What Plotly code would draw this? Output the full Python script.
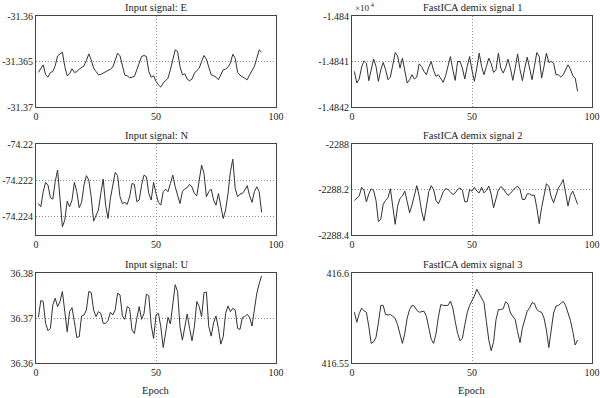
import plotly.graph_objects as go

# ---------------- data ----------------
epochs = list(range(1, 95))

input_E = [-31.36620, -31.36573, -31.36537, -31.36646, -31.36672, -31.36620, -31.36610, -31.36548, -31.36438, -31.36416,
           -31.36398, -31.36555, -31.36657, -31.36635, -31.36580, -31.36620, -31.36613, -31.36584, -31.36569, -31.36548,
           -31.36489, -31.36416, -31.36482, -31.36573, -31.36610, -31.36646, -31.36642, -31.36628, -31.36606, -31.36599,
           -31.36584, -31.36562, -31.36482, -31.36409, -31.36438, -31.36555, -31.36650, -31.36657, -31.36679, -31.36672,
           -31.36664, -31.36591, -31.36518, -31.36445, -31.36434, -31.36445, -31.36610, -31.36672, -31.36657, -31.36719,
           -31.36756, -31.36781, -31.36737, -31.36708, -31.36683, -31.36591, -31.36482, -31.36372, -31.36391, -31.36555,
           -31.36646, -31.36635, -31.36694, -31.36712, -31.36694, -31.36628, -31.36599, -31.36573, -31.36500, -31.36434,
           -31.36475, -31.36573, -31.36646, -31.36657, -31.36672, -31.36701, -31.36635, -31.36591, -31.36584, -31.36562,
           -31.36518, -31.36420, -31.36464, -31.36620, -31.36650, -31.36664, -31.36679, -31.36701, -31.36646, -31.36599,
           -31.36555, -31.36464, -31.36372, -31.36398]

input_N = [-74.22327, -74.22345, -74.22262, -74.22211, -74.22226, -74.22295, -74.22303, -74.22207, -74.22143, -74.22290,
           -74.22455, -74.22418, -74.22314, -74.22345, -74.22308, -74.22211, -74.22262, -74.22350, -74.22321, -74.22226,
           -74.22174, -74.22198, -74.22290, -74.22424, -74.22395, -74.22363, -74.22272, -74.22193, -74.22336, -74.22409,
           -74.22299, -74.22217, -74.22156, -74.22174, -74.22290, -74.22327, -74.22321, -74.22332, -74.22290, -74.22217,
           -74.22222, -74.22317, -74.22308, -74.22226, -74.22171, -74.22180, -74.22272, -74.22308, -74.22211, -74.22272,
           -74.22321, -74.22336, -74.22262, -74.22248, -74.22262, -74.22217, -74.22171, -74.22235, -74.22281, -74.22327,
           -74.22262, -74.22246, -74.22240, -74.22222, -74.22237, -74.22272, -74.22284, -74.22198, -74.22116, -74.22162,
           -74.22290, -74.22262, -74.22248, -74.22308, -74.22336, -74.22272, -74.22345, -74.22409, -74.22363, -74.22272,
           -74.22152, -74.22083, -74.22244, -74.22290, -74.22275, -74.22272, -74.22253, -74.22229, -74.22284, -74.22321,
           -74.22262, -74.22235, -74.22262, -74.22376]

input_U = [36.37015, 36.37388, 36.37366, 36.36881, 36.36716, 36.36769, 36.37291, 36.37440, 36.37254, 36.37366,
           36.37589, 36.37142, 36.36694, 36.37142, 36.37231, 36.36918, 36.36567, 36.36582, 36.37045, 36.37067,
           36.37179, 36.37589, 36.37567, 36.37179, 36.37030, 36.37142, 36.37104, 36.36881, 36.36881, 36.36940,
           36.37127, 36.37067, 36.37179, 36.37552, 36.37515, 36.37045, 36.36970, 36.37254, 36.37216, 36.36731,
           36.36657, 36.36993, 36.37254, 36.36970, 36.37104, 36.37530, 36.37492, 36.36843, 36.36545, 36.37067,
           36.37104, 36.36806, 36.36344, 36.36672, 36.37015, 36.36866, 36.37254, 36.37739, 36.37589, 36.36806,
           36.36508, 36.36843, 36.37090, 36.36769, 36.36493, 36.36806, 36.37366, 36.37254, 36.37030, 36.37567,
           36.37574, 36.36806, 36.36597, 36.36896, 36.37045, 36.36769, 36.36418, 36.36582, 36.37104, 36.37269,
           36.37142, 36.37216, 36.37179, 36.36769, 36.36746, 36.37015, 36.37030, 36.37082, 36.37015, 36.36821,
           36.37254, 36.37552, 36.37761, 36.37940]

demix_1 = [-14841.218, -14841.473, -14841.385, -14841.124, -14840.985, -14841.036, -14841.422, -14841.145, -14840.942, -14841.109,
           -14841.436, -14841.182, -14841.022, -14841.182, -14841.400, -14841.342, -14841.036, -14840.804, -14840.876, -14841.145,
           -14840.927, -14841.218, -14841.473, -14841.400, -14841.291, -14841.385, -14841.342, -14841.051, -14841.109, -14841.218,
           -14841.291, -14841.124, -14841.000, -14841.196, -14841.327, -14841.291, -14841.364, -14841.458, -14841.313, -14841.109,
           -14840.891, -14841.182, -14841.415, -14841.000, -14841.000, -14841.145, -14841.385, -14841.109, -14840.891, -14841.196,
           -14841.436, -14841.145, -14840.818, -14841.109, -14841.291, -14841.109, -14840.927, -14841.051, -14841.240, -14841.182,
           -14840.818, -14841.145, -14841.255, -14841.131, -14840.949, -14841.145, -14841.415, -14841.145, -14840.833, -14841.182,
           -14841.422, -14841.145, -14840.905, -14841.145, -14841.400, -14841.109, -14840.804, -14840.891, -14841.364, -14841.109,
           -14840.818, -14841.022, -14841.000, -14841.036, -14841.291, -14841.291, -14841.342, -14841.291, -14841.182, -14841.073,
           -14841.167, -14841.313, -14841.364, -14841.655]

demix_2 = [-2288.248, -2288.238, -2288.229, -2288.190, -2288.204, -2288.255, -2288.219, -2288.197, -2288.204, -2288.248,
           -2288.341, -2288.331, -2288.265, -2288.248, -2288.236, -2288.197, -2288.265, -2288.353, -2288.273, -2288.239,
           -2288.229, -2288.207, -2288.254, -2288.302, -2288.268, -2288.222, -2288.183, -2288.229, -2288.295, -2288.338,
           -2288.265, -2288.210, -2288.183, -2288.200, -2288.248, -2288.263, -2288.239, -2288.210, -2288.196, -2288.200,
           -2288.210, -2288.222, -2288.215, -2288.200, -2288.193, -2288.204, -2288.254, -2288.254, -2288.200, -2288.207,
           -2288.190, -2288.207, -2288.215, -2288.190, -2288.215, -2288.204, -2288.185, -2288.222, -2288.280, -2288.239,
           -2288.201, -2288.187, -2288.196, -2288.212, -2288.226, -2288.217, -2288.204, -2288.193, -2288.185, -2288.200,
           -2288.244, -2288.244, -2288.219, -2288.219, -2288.226, -2288.225, -2288.280, -2288.350, -2288.280, -2288.222,
           -2288.175, -2288.185, -2288.233, -2288.258, -2288.222, -2288.193, -2288.178, -2288.156, -2288.215, -2288.273,
           -2288.225, -2288.207, -2288.236, -2288.265]

demix_3 = [416.5782, 416.5726, 416.5774, 416.5805, 416.5790, 416.5782, 416.5703, 416.5609, 416.5617, 416.5643,
           416.5722, 416.5820, 416.5820, 416.5769, 416.5767, 416.5769, 416.5759, 416.5748, 416.5712, 416.5662,
           416.5609, 416.5665, 416.5750, 416.5797, 416.5820, 416.5816, 416.5793, 416.5782, 416.5786, 416.5788,
           416.5759, 416.5694, 416.5632, 416.5609, 416.5662, 416.5756, 416.5825, 416.5820, 416.5821, 416.5820,
           416.5844, 416.5806, 416.5731, 416.5665, 416.5624, 416.5637, 416.5712, 416.5778, 416.5820, 416.5844,
           416.5872, 416.5910, 416.5885, 416.5861, 416.5835, 416.5731, 416.5628, 416.5568, 416.5618, 416.5741,
           416.5797, 416.5797, 416.5801, 416.5840, 416.5829, 416.5778, 416.5756, 416.5741, 416.5675, 416.5613,
           416.5694, 416.5741, 416.5788, 416.5806, 416.5835, 416.5831, 416.5797, 416.5786, 416.5782, 416.5750,
           416.5684, 416.5586, 416.5680, 416.5778, 416.5816, 416.5820, 416.5831, 416.5842, 416.5820, 416.5782,
           416.5737, 416.5675, 416.5600, 416.5628]

titles = ["Input signal: E", "FastICA demix signal 1",
          "Input signal: N", "FastICA demix signal 2",
          "Input signal: U", "FastICA demix signal 3"]

y_tickvals = [[-31.37, -31.365, -31.36], [-14842, -14841, -14840],
              [-74.224, -74.222, -74.22], [-2288.4, -2288.2, -2288],
              [36.36, 36.37, 36.38], [416.55, 416.6]]
y_ticktext = [["-31.37", "-31.365", "-31.36"], ["-1.4842", "-1.4841", "-1.484"],
              ["-74.224", "-74.222", "-74.22"], ["-2288.4", "-2288.2", "-2288"],
              ["36.36", "36.37", "36.38"], ["416.55", "416.6"]]
y_ranges = [[-31.37, -31.36], [-14842, -14840],
            [-74.225, -74.22], [-2288.4, -2288],
            [36.36, 36.38], [416.55, 416.6]]
x_tickvals = [0, 50, 100]

series = [input_E, demix_1, input_N, demix_2, input_U, demix_3]

# ---------------- layout ----------------
# The figure is a few pixels wider than the 600 px window, so the right-most
# "100" tick labels are not treated as overflowing the plot div; the extra
# strip on the right is simply outside the visible window.
W, H = 606, 398
col_px = [(36, 276), (352, 592)]
row_px = [(16, 107), (144, 235), (273, 363)]

FONT = "Liberation Serif, Times New Roman, serif"
FS = 10
fig = go.Figure()
layout = dict(
    template="none",
    width=W, height=H,
    margin=dict(l=0, r=0, t=0, b=0, pad=0),
    paper_bgcolor="white", plot_bgcolor="white",
    showlegend=False,
    font=dict(family=FONT, size=FS, color="#222"),
)
annotations = []
for i, ys in enumerate(series):
    r, c = divmod(i, 2)
    k = i + 1
    sfx = "" if k == 1 else str(k)
    x0, x1 = col_px[c]
    y0, y1 = row_px[r]
    xdom = [x0 / W, x1 / W]
    ydom = [1 - y1 / H, 1 - y0 / H]
    fig.add_trace(go.Scatter(x=epochs, y=ys, mode="lines",
                             line=dict(color="#333333", width=1),
                             xaxis="x" + sfx, yaxis="y" + sfx,
                             hoverinfo="skip"))
    common = dict(showgrid=True, gridcolor="#8c8c8c", griddash="1px,2px", gridwidth=1,
                  showline=True, mirror=True, linecolor="#444", linewidth=1,
                  zeroline=False, ticks="", automargin=False,
                  tickfont=dict(family=FONT, size=FS, color="#222"))
    layout["xaxis" + sfx] = dict(domain=xdom, range=[0, 100], tickvals=x_tickvals,
                                 ticktext=[str(v) for v in x_tickvals],
                                 ticklabeloverflow="allow",
                                 anchor="y" + sfx, **common)
    layout["yaxis" + sfx] = dict(domain=ydom, range=y_ranges[i], tickvals=y_tickvals[i],
                                 ticktext=y_ticktext[i],
                                 anchor="x" + sfx, **common)
    annotations.append(dict(text=titles[i], x=(x0 + x1) / 2 / W, y=1 - (y0 - 1) / H,
                            xref="paper", yref="paper", xanchor="center", yanchor="bottom",
                            showarrow=False, font=dict(family=FONT, size=FS + 0.5, color="#222")))

annotations.append(dict(text="×10<sup> 4</sup>", x=353 / W, y=1 - 15 / H, xref="paper", yref="paper",
                        xanchor="left", yanchor="bottom", showarrow=False,
                        font=dict(family=FONT, size=9, color="#222")))
for c in range(2):
    x0, x1 = col_px[c]
    annotations.append(dict(text="Epoch", x=(x0 + x1) / 2 / W, y=0, xref="paper", yref="paper",
                            xanchor="center", yanchor="bottom", showarrow=False,
                            font=dict(family=FONT, size=FS + 0.5, color="#222")))
layout["annotations"] = annotations
fig.update_layout(**layout)
# strip the default body margin, then redraw so the labels are laid out in the final position
fig.write_html("out.html", config={"displayModeBar": False, "staticPlot": True},
               post_script="document.documentElement.style.overflow='hidden';"
                           "document.body.style.margin='0';document.body.style.overflow='hidden';"
                           "var gd=document.getElementById('{plot_id}');"
                           "Plotly.newPlot(gd, gd.data, gd.layout, {displayModeBar:false, staticPlot:true});")
